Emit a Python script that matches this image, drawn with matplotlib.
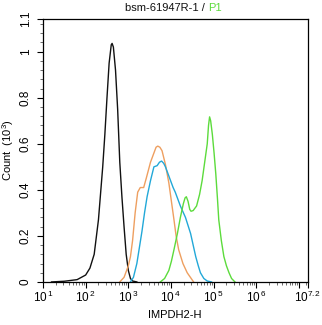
import numpy as np
import matplotlib
matplotlib.use("Agg")
import matplotlib.pyplot as plt
from matplotlib.ticker import FixedLocator, FixedFormatter

plt.rcParams['font.family'] = ['Liberation Sans', 'DejaVu Sans']
plt.rcParams['mathtext.fontset'] = 'custom'
plt.rcParams['mathtext.rm'] = 'Liberation Sans'

# histogram outlines, x as log10(IMPDH2-H), y as count (10^3)
black_log = [1.2, 1.5, 1.8, 2.0, 2.1, 2.2, 2.3, 2.4, 2.45, 2.5, 2.55, 2.6, 2.62,
             2.65, 2.7, 2.75, 2.8, 2.85, 2.9, 2.95, 3.0, 3.05, 3.1, 3.2]
black_cnt = [0.0, 0.003, 0.01, 0.03, 0.06, 0.12, 0.27, 0.5, 0.64, 0.8, 0.95, 1.03, 1.036,
             1.02, 0.92, 0.75, 0.52, 0.37, 0.24, 0.12, 0.05, 0.015, 0.004, 0.0]

orange_log = [2.8, 2.9, 3.0, 3.05, 3.1, 3.16, 3.22, 3.28, 3.32, 3.36, 3.42, 3.52, 3.6,
              3.65, 3.69, 3.74, 3.79, 3.87, 3.95, 4.01, 4.07, 4.12, 4.18, 4.28, 4.38, 4.53]
orange_cnt = [0.0, 0.02, 0.07, 0.11, 0.18, 0.3, 0.39, 0.41, 0.41, 0.41, 0.45, 0.52, 0.56,
              0.585, 0.59, 0.585, 0.57, 0.51, 0.43, 0.35, 0.27, 0.2, 0.14, 0.08, 0.04, 0.0]

blue_log = [3.05, 3.12, 3.2, 3.26, 3.32, 3.38, 3.44, 3.52, 3.6, 3.675, 3.73, 3.78, 3.83,
            3.87, 3.93, 3.99, 4.05, 4.1, 4.16, 4.22, 4.28, 4.34, 4.4, 4.46, 4.52, 4.58,
            4.64, 4.69, 4.77, 4.85, 4.95]
blue_cnt = [0.0, 0.02, 0.08, 0.15, 0.22, 0.3, 0.37, 0.44, 0.5, 0.505, 0.52, 0.525, 0.515,
            0.5, 0.47, 0.44, 0.41, 0.39, 0.36, 0.33, 0.305, 0.28, 0.245, 0.21, 0.16, 0.11,
            0.07, 0.04, 0.015, 0.004, 0.0]

green_log = [3.75, 3.85, 3.95, 4.01, 4.07, 4.15, 4.22, 4.29, 4.33, 4.36, 4.4, 4.44, 4.47,
             4.52, 4.6, 4.67, 4.73, 4.79, 4.85, 4.88, 4.905, 4.93, 4.97, 5.01, 5.05, 5.09,
             5.12, 5.18, 5.24, 5.3, 5.36, 5.42, 5.5]
green_cnt = [0.0, 0.015, 0.05, 0.09, 0.14, 0.21, 0.28, 0.34, 0.365, 0.37, 0.35, 0.315, 0.307,
             0.31, 0.33, 0.38, 0.44, 0.52, 0.6, 0.68, 0.717, 0.7, 0.64, 0.56, 0.47, 0.36,
             0.27, 0.18, 0.11, 0.07, 0.04, 0.015, 0.0]

series = [
    (black_log, black_cnt, '#111111'),
    (orange_log, orange_cnt, '#EE9F60'),
    (blue_log, blue_cnt, '#22A8D8'),
    (green_log, green_cnt, '#5CDB3C'),
]

x_decades = [1, 2, 3, 4, 5, 6, 7]
x_top = 7.2
y_major = [0, 0.2, 0.4, 0.6, 0.8, 1.0]
y_major_labels = ['0', '0.2', '0.4', '0.6', '0.8', '1']
y_top = 1.142

fig = plt.figure(figsize=(3.22, 3.25), dpi=100)
ax = fig.add_axes([0.1335, 0.1325, 0.8215, 0.809])

for lx, cnt, col in series:
    ax.plot(10 ** np.array(lx), cnt, color=col, lw=1.0)

ax.set_xscale('log')
ax.set_xlim(10 ** 1, 10 ** x_top)
ax.set_ylim(0, y_top)

xt = [10.0 ** d for d in x_decades] + [10 ** x_top]
xl = [r'$\mathregular{10^{\,%d}}$' % d for d in x_decades]
xl[-1] = ''
xl.append(r'$\mathregular{10^{7.2}}$')
ax.xaxis.set_major_locator(FixedLocator(xt))
ax.xaxis.set_major_formatter(FixedFormatter(xl))
xminor = [m * 10.0 ** d for d in range(1, 7) for m in range(2, 10)] + [1.5e7]
xminor = [v for v in xminor if v < 10 ** x_top]
ax.xaxis.set_minor_locator(FixedLocator(xminor))
ax.xaxis.set_minor_formatter(FixedFormatter([''] * len(xminor)))

ax.yaxis.set_major_locator(FixedLocator(y_major + [y_top]))
ax.yaxis.set_major_formatter(FixedFormatter(y_major_labels + ['1.1']))
yminor = [round(i * 0.04, 2) for i in range(1, 29) if round(i * 0.04, 2) not in y_major]
ax.yaxis.set_minor_locator(FixedLocator(yminor))

ax.tick_params(which='major', direction='out', length=4, width=0.8, labelsize=8.5, pad=2)
ax.tick_params(axis='y', which='major', pad=4)
ax.tick_params(which='minor', direction='out', length=2.5, width=0.6, color='#555555')
for lab in ax.get_yticklabels():
    lab.set_rotation(90)
    lab.set_va('center')
for sp in ax.spines.values():
    sp.set_linewidth(0.9)

ax.set_xlabel('IMPDH2-H', fontsize=8, labelpad=3)
ax.set_ylabel(r'Count  (10$^{\mathregular{3}}$)', fontsize=8, labelpad=3)

fig.text(208 / 322, 0.975, 'bsm-61947R-1 / ', ha='right', va='center', fontsize=8, color='#111111')
fig.text(208 / 322, 0.975, 'P1', ha='left', va='center', fontsize=8, color='#5CDB3C')

fig.savefig('out.png', dpi=100)
